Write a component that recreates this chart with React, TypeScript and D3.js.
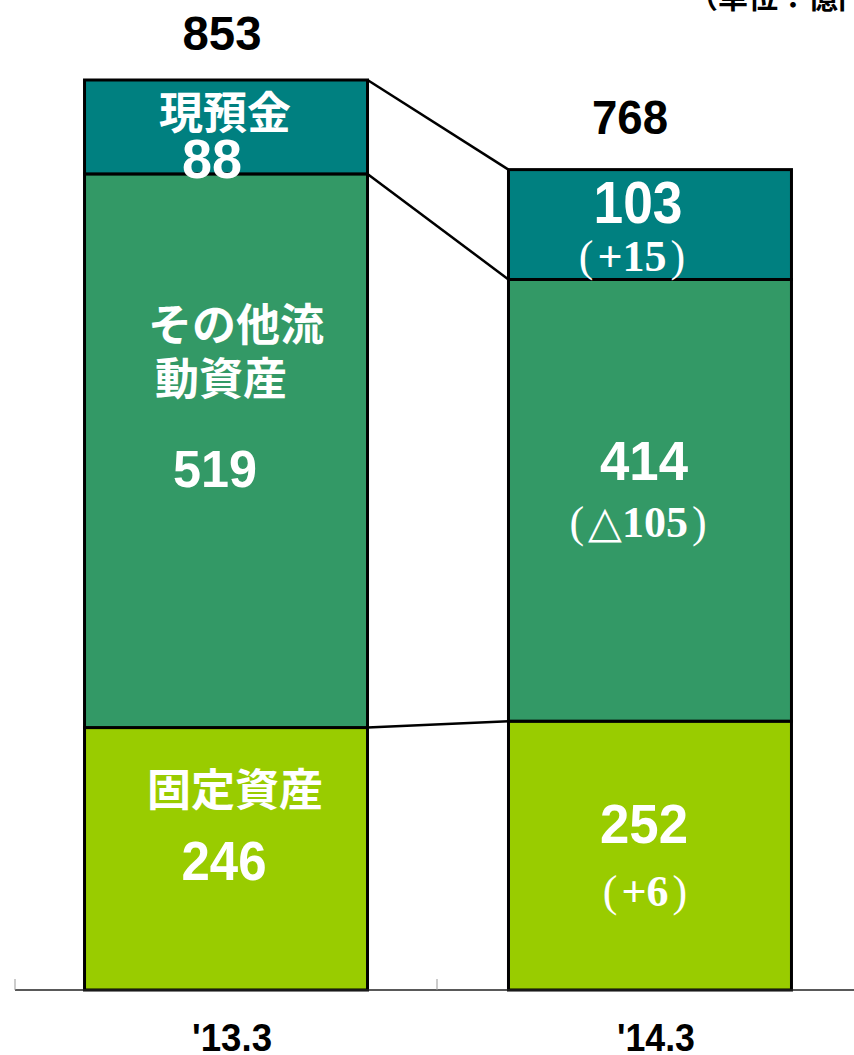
import { useRef, useEffect } from 'react';
import * as d3 from 'd3';

// 単位：億円
const periods = ["'13.3", "'14.3"];
const cash = [88, 103];
const otherCurrent = [519, 414];
const fixed = [246, 252];
const totals = [853, 768];
const cashDiff = ['', '+15'];
const otherDiff = ['', '△105'];
const fixedDiff = ['', '+6'];
const segColors = ['#99cc00', '#339966', '#008080'];

export default function App() {
  const svgRef = useRef<SVGSVGElement>(null);

  useEffect(() => {
    const w = 854;
    const h = 1055;
    const svg = d3.select(svgRef.current);
    svg.selectAll('*').remove();
    svg
      .attr('width', w)
      .attr('height', h)
      .style('position', 'absolute')
      .style('left', '0px')
      .style('top', '0px');

    const numFont = '"Liberation Sans", Arial, sans-serif';
    const jpFont = '"Noto Sans CJK JP", sans-serif';
    const serifFont = '"Liberation Serif", "DejaVu Serif", serif';

    const x = d3
      .scaleBand()
      .domain(periods)
      .range([15, 861])
      .paddingInner(0.3325)
      .paddingOuter(0.164);
    const y = d3.scaleLinear().domain([0, 853]).range([990, 80]);

    const stack = d3.stack<any>().keys(['fixed', 'other', 'cash']);
    const rows = periods.map((p, i) => ({
      period: p,
      fixed: fixed[i],
      other: otherCurrent[i],
      cash: cash[i],
    }));
    const series = stack(rows);

    // connector lines between bars
    const bw = x.bandwidth();
    const x0 = (x(periods[0]) as number) + bw;
    const x1 = x(periods[1]) as number;
    series.forEach((s) => {
      svg
        .append('line')
        .attr('x1', x0)
        .attr('y1', y(s[0][1]))
        .attr('x2', x1)
        .attr('y2', y(s[1][1]))
        .attr('stroke', '#000')
        .attr('stroke-width', 2.5);
    });

    // bars
    series.forEach((s, si) => {
      svg
        .append('g')
        .selectAll('rect')
        .data(s)
        .enter()
        .append('rect')
        .attr('x', (d: any) => x(d.data.period) as number)
        .attr('y', (d) => y(d[1]))
        .attr('width', bw)
        .attr('height', (d) => y(d[0]) - y(d[1]))
        .attr('fill', segColors[si])
        .attr('stroke', '#000')
        .attr('stroke-width', 3);
    });

    // axis
    svg
      .append('line')
      .attr('x1', 15)
      .attr('x2', w)
      .attr('y1', 990)
      .attr('y2', 990)
      .attr('stroke', '#222')
      .attr('stroke-width', 1.5);
    [15, 437].forEach((tx) => {
      svg
        .append('line')
        .attr('x1', tx)
        .attr('x2', tx)
        .attr('y1', 979)
        .attr('y2', 990)
        .attr('stroke', '#999')
        .attr('stroke-width', 1);
    });

    const txt = (
      tx: number,
      ty: number,
      s: string,
      size: number,
      fill: string,
      font: string,
      opts: { anchor?: string; len?: number; weight?: string } = {}
    ) => {
      const t = svg
        .append('text')
        .attr('x', tx)
        .attr('y', ty)
        .attr('text-anchor', opts.anchor || 'middle')
        .attr('font-family', font)
        .attr('font-weight', opts.weight || 'bold')
        .attr('font-size', size)
        .attr('fill', fill)
        .text(s);
      if (opts.len) {
        t.attr('textLength', opts.len).attr('lengthAdjust', 'spacingAndGlyphs');
      }
      return t;
    };

    // change label in brackets: thin parens, bold content
    const diff = (tx: number, ty: number, s: string, size: number) => {
      const t = svg
        .append('text')
        .attr('x', tx)
        .attr('y', ty)
        .attr('text-anchor', 'middle')
        .attr('font-family', serifFont)
        .attr('font-size', size)
        .attr('fill', '#fff');
      t.append('tspan').attr('font-weight', 'normal').attr('dx', 0).text('(');
      t.append('tspan').attr('font-weight', 'bold').attr('dx', 4).text(s);
      t.append('tspan').attr('font-weight', 'normal').attr('dx', 4).text(')');
    };

    const c0 = (x(periods[0]) as number) + bw / 2;
    const c1 = (x(periods[1]) as number) + bw / 2;

    // x labels
    txt(c0 + 6, 1051, periods[0], 38, '#000', numFont, { len: 80 });
    txt(c1 + 6, 1051, periods[1], 38, '#000', numFont, { len: 78 });

    // totals
    txt(c0 - 4, 50, String(totals[0]), 48, '#000', numFont, { len: 79 });
    txt(c1 - 20, 134, String(totals[1]), 48, '#000', numFont, { len: 76 });

    // '13.3 bar labels
    txt(c0 - 1, 129, '現預金', 44, '#fff', jpFont);
    txt(c0 - 14, 178, String(cash[0]), 56, '#fff', numFont, { len: 60 });
    txt(148, 341, 'その他流', 44, '#fff', jpFont, { anchor: 'start' });
    txt(155, 395, '動資産', 44, '#fff', jpFont, { anchor: 'start' });
    txt(c0 - 11, 487, String(otherCurrent[0]), 52, '#fff', numFont, { len: 84 });
    txt(c0 + 9, 806, '固定資産', 44, '#fff', jpFont);
    txt(c0 - 2, 880, String(fixed[0]), 55, '#fff', numFont, { len: 85 });

    // '14.3 bar labels
    txt(c1 - 12, 223, String(cash[1]), 60, '#fff', numFont, { len: 89 });
    diff(c1 - 18, 271, cashDiff[1], 44);
    txt(c1 - 6, 480, String(otherCurrent[1]), 55, '#fff', numFont, { len: 88 });
    diff(c1 - 12, 537, otherDiff[1], 44);
    txt(c1 - 6, 843, String(fixed[1]), 55, '#fff', numFont, { len: 88 });
    diff(c1 - 5, 906, fixedDiff[1], 44);

    // unit note (cut off at top edge)
    txt(688, 8, '（単位：億円）', 30, '#000', jpFont, { anchor: 'start' });
  }, []);

  return <svg ref={svgRef}></svg>;
}
